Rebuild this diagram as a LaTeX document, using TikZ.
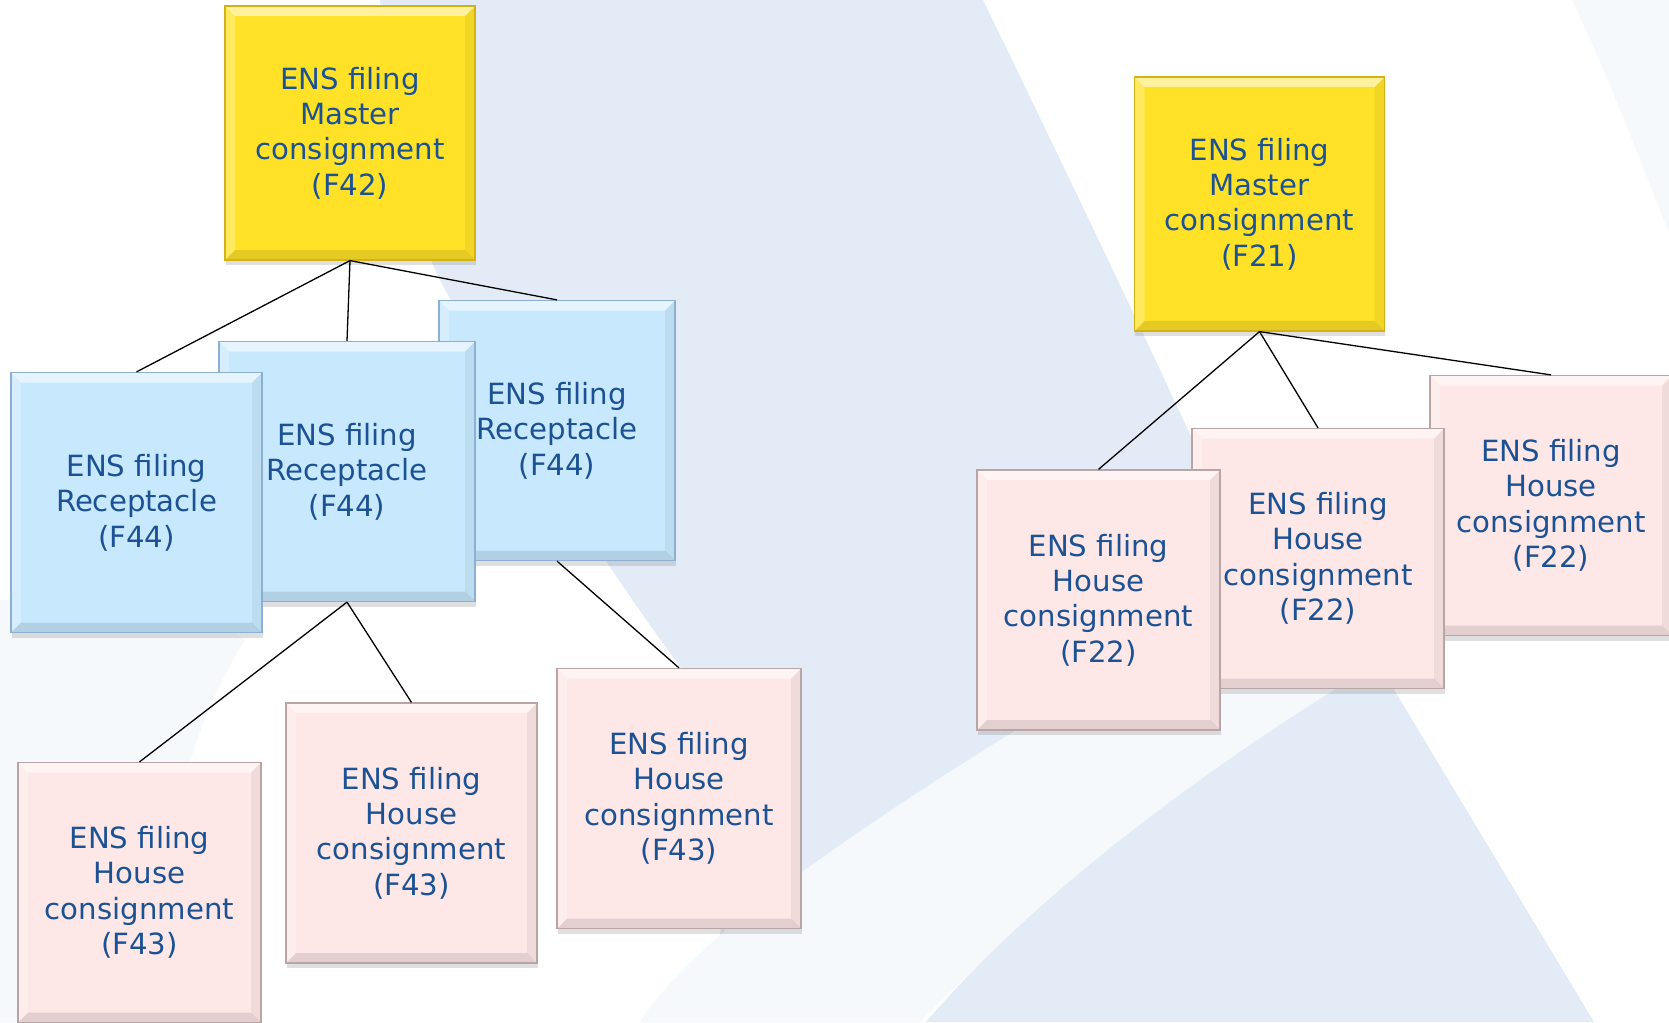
\documentclass[tikz,border=0pt]{standalone}
\usepackage{fontspec}
\setmainfont{DejaVu Sans}
\usepackage{tikz}
\usetikzlibrary{shadows}
\definecolor{ensblue}{RGB}{28,82,148}
\definecolor{mastfill}{RGB}{255,226,40}
\definecolor{mastline}{RGB}{212,178,22}
\definecolor{recfill}{RGB}{199,232,253}
\definecolor{recline}{RGB}{140,175,210}
\definecolor{housefill}{RGB}{253,231,231}
\definecolor{houseline}{RGB}{185,165,165}
\definecolor{bgblue}{RGB}{227,236,246}
\definecolor{bgpale}{RGB}{246,249,252}

\begin{document}
\begin{tikzpicture}[
            x = 0.5pt, y = -0.5pt, % one unit is one pixel, y runs down
            semithick % line style
        ]

        \tikzstyle{bevel}=[
            path picture={
                \fill[white, opacity=.55] (path picture bounding box.north west) -- (path picture bounding box.north east)
                    -- ([shift={(-5pt,-5pt)}]path picture bounding box.north east) -- ([shift={(5pt,-5pt)}]path picture bounding box.north west) -- cycle;
                \fill[white, opacity=.25] (path picture bounding box.north west) -- (path picture bounding box.south west)
                    -- ([shift={(5pt,5pt)}]path picture bounding box.south west) -- ([shift={(5pt,-5pt)}]path picture bounding box.north west) -- cycle;
                \fill[black, opacity=.05] (path picture bounding box.north east) -- (path picture bounding box.south east)
                    -- ([shift={(-5pt,5pt)}]path picture bounding box.south east) -- ([shift={(-5pt,-5pt)}]path picture bounding box.north east) -- cycle;
                \fill[black, opacity=.10] (path picture bounding box.south west) -- (path picture bounding box.south east)
                    -- ([shift={(-5pt,5pt)}]path picture bounding box.south east) -- ([shift={(5pt,5pt)}]path picture bounding box.south west) -- cycle;
            }
        ]
        \tikzstyle{filing}=[
            bevel,
            line width = 0.6pt,
            text = ensblue,
            align = center,
            font = \fontsize{14.6}{17.7}\selectfont,
            inner sep = 0pt,
            minimum height = 130pt,
            drop shadow = {shadow xshift=0.3pt, shadow yshift=-2.5pt, opacity=.25}
        ]
        \tikzstyle{master}=[filing, fill = mastfill, draw = mastline, minimum width = 125pt, minimum height = 127pt]
        \tikzstyle{recept}=[filing, fill = recfill, draw = recline]
        \tikzstyle{house}=[filing, fill = housefill, draw = houseline]
        \tikzstyle{link}=[black, line width = 0.65pt]

        \useasboundingbox (0,0) rectangle (1669,1022);
        \clip (0,0) rectangle (1669,1022);

        % background
        \fill[white] (0,0) rectangle (1669,1022);
        \fill[bgpale] (0,600) .. controls (120,590) and (210,610) .. (245,640)
            .. controls (170,760) and (150,900) .. (210,1022) -- (0,1022) -- cycle;
        \fill[bgpale] (1572,0) .. controls (1610,80) and (1640,160) .. (1669,233) -- (1669,0) -- cycle;
        \fill[bgpale] (1260,590) .. controls (1150,650) and (950,760) .. (750,910)
            .. controls (700,950) and (660,990) .. (640,1022) -- (920,1022)
            .. controls (1050,890) and (1200,770) .. (1378,663) -- cycle;
        \fill[bgblue] (380,0) -- (983,0) .. controls (1080,200) and (1200,450) .. (1260,590)
            .. controls (1150,650) and (950,760) .. (750,910)
            .. controls (730,925) and (725,930) .. (720,935)
            .. controls (740,820) and (720,730) .. (690,680)
            .. controls (600,560) and (520,430) .. (440,280)
            .. controls (410,220) and (395,120) .. (380,0) -- cycle;
        \fill[bgblue] (926,1022) .. controls (1030,900) and (1200,770) .. (1378,663) -- (1594,1022) -- cycle;

        % master level (F42)
        \node[master] (M42) at (350,133) {ENS filing\\Master\\consignment\\(F42)};

        % receptacles
        \node[recept, minimum width = 118pt] (RC) at (557,430.5) {ENS filing\\Receptacle\\(F44)};
        \node[recept, minimum width = 128pt] (RB) at (347,471.5) {ENS filing\\Receptacle\\(F44)};
        \node[recept, minimum width = 125.5pt] (RA) at (136.5,502.5) {ENS filing\\Receptacle\\(F44)};

        % house level (F43)
        \node[house, minimum width = 121.5pt] (HA) at (139.5,892.5) {ENS filing\\House\\consignment\\(F43)};
        \node[house, minimum width = 125.5pt] (HB) at (411.5,833) {ENS filing\\House\\consignment\\(F43)};
        \node[house, minimum width = 122pt] (HC) at (679,798.5) {ENS filing\\House\\consignment\\(F43)};

        % master level (F21)
        \node[master] (M21) at (1259.5,204) {ENS filing\\Master\\consignment\\(F21)};

        % house level (F22)
        \node[house, minimum width = 121pt] (HF) at (1551,505.5) {ENS filing\\House\\consignment\\(F22)};
        \node[house, minimum width = 126pt] (HE) at (1318,558.5) {ENS filing\\House\\consignment\\(F22)};
        \node[house, minimum width = 121.5pt] (HD) at (1098.5,600) {ENS filing\\House\\consignment\\(F22)};

        \draw[link] (M42.south) -- (RA.north);
        \draw[link] (M42.south) -- (RB.north);
        \draw[link] (M42.south) -- (RC.north);
        \draw[link] (RB.south) -- (HA.north);
        \draw[link] (RB.south) -- (HB.north);
        \draw[link] (RC.south) -- (HC.north);

        \draw[link] (M21.south) -- (HD.north);
        \draw[link] (M21.south) -- (HE.north);
        \draw[link] (M21.south) -- (HF.north);

\end{tikzpicture}
\end{document}
